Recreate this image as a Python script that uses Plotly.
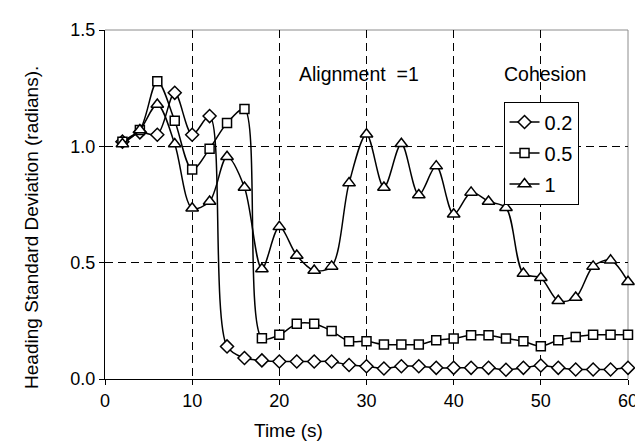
import plotly.graph_objects as go

time_s = [2, 4, 6, 8, 10, 12, 14, 16, 18, 20, 22, 24, 26, 28, 30,
          32, 34, 36, 38, 40, 42, 44, 46, 48, 50, 52, 54, 56, 58, 60]
coh_02 = [1.02, 1.06, 1.05, 1.23, 1.05, 1.13, 0.14, 0.09, 0.08, 0.075,
          0.075, 0.075, 0.075, 0.06, 0.055, 0.045, 0.055, 0.055, 0.048, 0.048,
          0.048, 0.048, 0.04, 0.048, 0.058, 0.048, 0.041, 0.041, 0.041, 0.048]
coh_05 = [1.02, 1.07, 1.28, 1.11, 0.90, 0.99, 1.10, 1.16, 0.175, 0.19,
          0.237, 0.237, 0.206, 0.162, 0.162, 0.148, 0.148, 0.148, 0.167, 0.174,
          0.188, 0.188, 0.174, 0.162, 0.141, 0.167, 0.181, 0.19, 0.19, 0.19]
coh_1 = [1.01, 1.07, 1.18, 1.01, 0.734, 0.763, 0.955, 0.823, 0.473, 0.654,
         0.531, 0.466, 0.484, 0.842, 1.052, 0.823, 1.011, 0.791, 0.915, 0.708,
         0.802, 0.763, 0.736, 0.453, 0.435, 0.336, 0.35, 0.484, 0.51, 0.418]

series_names = ["0.2", "0.5", "1"]
x_ticks = [0, 10, 20, 30, 40, 50, 60]
y_ticks = [0.0, 0.5, 1.0, 1.5]

FONT = "Liberation Sans, Arial, sans-serif"

fig = go.Figure()
for name, vals, sym, size in [(series_names[0], coh_02, "diamond", 10),
                              (series_names[1], coh_05, "square", 9),
                              (series_names[2], coh_1, "triangle-up", 11)]:
    fig.add_trace(go.Scatter(
        x=time_s, y=vals, name=name, mode="lines+markers",
        line=dict(color="black", width=1.5, shape="spline", smoothing=0.9),
        marker=dict(symbol=sym, size=size, color="white",
                    line=dict(color="black", width=1.5)),
        cliponaxis=False, legendgroup=name,
    ))

fig.update_layout(
    width=643, height=443,
    margin=dict(l=97, r=23, t=19, b=72),
    paper_bgcolor="white", plot_bgcolor="white",
    font=dict(family=FONT, size=18, color="black"),
    showlegend=True,
    legend=dict(x=0.762, y=0.795, xanchor="left", yanchor="top",
                bordercolor="black", borderwidth=1, bgcolor="white",
                font=dict(size=20), tracegroupgap=2),
    xaxis=dict(range=[0, 60], tickvals=x_ticks, showgrid=True,
               gridcolor="black", gridwidth=1, griddash="8px,5px",
               showline=True, linecolor="black", linewidth=1,
               ticks="outside", ticklen=5, tickcolor="black", zeroline=False,
               tickfont=dict(size=18)),
    yaxis=dict(range=[0, 1.5], tickvals=y_ticks, tickformat=".1f",
               showgrid=True, gridcolor="black", gridwidth=1,
               griddash="8px,5px",
               showline=True, linecolor="black", linewidth=1,
               ticks="outside", ticklen=5, tickcolor="black", zeroline=False,
               tickfont=dict(size=18)),
    shapes=[
        dict(type="line", xref="paper", yref="paper", x0=1, x1=1, y0=0, y1=1,
             line=dict(color="#8c8c8c", width=1), layer="between"),
        dict(type="line", xref="paper", yref="paper", x0=0, x1=1, y0=1, y1=1,
             line=dict(color="#8c8c8c", width=1), layer="between"),
    ],
    annotations=[
        dict(text="Time (s)", xref="paper", yref="paper", x=0.351, y=-0.148,
             xanchor="center", yanchor="middle", showarrow=False,
             font=dict(size=19)),
        dict(text="Heading Standard Deviation (radians).", xref="paper",
             yref="paper", x=-0.142, y=0.435, textangle=-90,
             xanchor="center", yanchor="middle", showarrow=False,
             font=dict(size=19)),
        dict(text="Alignment  =1", xref="paper", yref="paper", x=0.486, y=0.875,
             xanchor="center", yanchor="middle", showarrow=False,
             font=dict(size=19.5)),
        dict(text="Cohesion", xref="paper", yref="paper", x=0.841, y=0.875,
             xanchor="center", yanchor="middle", showarrow=False,
             font=dict(size=19.5)),
    ],
)

fig.write_html("out.html")
